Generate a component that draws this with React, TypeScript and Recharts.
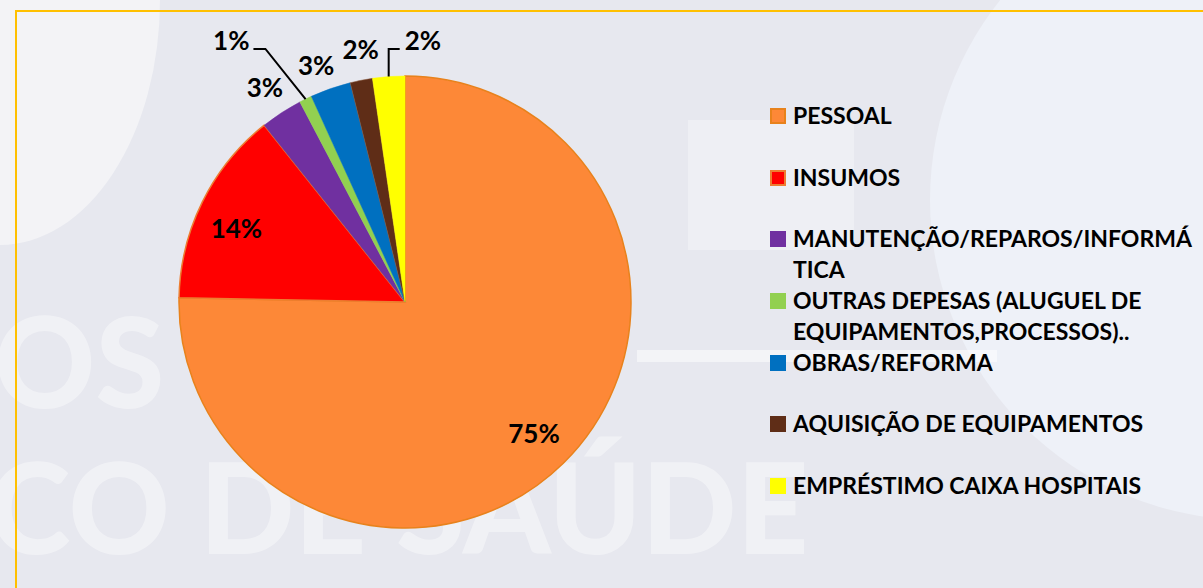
import React from 'react';
import { PieChart, Pie, Cell } from 'recharts';

const categories = [
  'PESSOAL',
  'INSUMOS',
  'MANUTENÇÃO/REPAROS/INFORMÁTICA',
  'OUTRAS DEPESAS (ALUGUEL DE EQUIPAMENTOS,PROCESSOS)..',
  'OBRAS/REFORMA',
  'AQUISIÇÃO DE EQUIPAMENTOS',
  'EMPRÉSTIMO CAIXA HOSPITAIS',
];

// share of the budget, in percent
const shares = [75.3, 14.0, 3.0, 0.9, 2.9, 1.6, 2.3];

// how the legend text wraps in the original
const legendLines = [
  ['PESSOAL'],
  ['INSUMOS'],
  ['MANUTENÇÃO/REPAROS/INFORMÁ', 'TICA'],
  ['OUTRAS DEPESAS (ALUGUEL DE', 'EQUIPAMENTOS,PROCESSOS)..'],
  ['OBRAS/REFORMA'],
  ['AQUISIÇÃO DE EQUIPAMENTOS'],
  ['EMPRÉSTIMO CAIXA HOSPITAIS'],
];

const fills = ['#fd8837', '#ff0000', '#7030a0', '#92d050', '#0070c0', '#5f2d17', '#ffff00'];
const strokes = ['#e8821c', '#ed7d31', '#7030a0', '#92d050', '#0070c0', '#8a5a3e', '#ffff00'];

const data = categories.map((name, i) => ({ name, value: shares[i] }));

const FONT = 'Lato, "Open Sans", sans-serif';
const RAD = Math.PI / 180;

function renderLabel(props: any) {
  const { cx, cy, midAngle, outerRadius, percent, index } = props;
  const text = `${Math.round(percent * 100)}%`;
  const style = { fontFamily: FONT, fontWeight: 700, fontSize: 26, fill: '#000' };
  const cos = Math.cos(-midAngle * RAD);
  const sin = Math.sin(-midAngle * RAD);

  // slices with a leader line (1% and the yellow 2%)
  if (index === 3 || index === 6) {
    const sx = cx + outerRadius * cos;
    const sy = cy + outerRadius * sin;
    const ey = cy - outerRadius * 1.12;
    if (index === 3) {
      const ex = sx - (sy - ey) * 0.8;
      return (
        <g>
          <polyline points={`${sx},${sy} ${ex},${ey} ${ex - 12},${ey}`} fill="none" stroke="#000" strokeWidth={2} />
          <text x={ex - 16} y={ey - 9} textAnchor="end" dominantBaseline="central" style={style}>{text}</text>
        </g>
      );
    }
    return (
      <g>
        <polyline points={`${sx},${sy} ${sx},${ey} ${sx + 11},${ey}`} fill="none" stroke="#000" strokeWidth={2} />
        <text x={sx + 16} y={ey - 9} textAnchor="start" dominantBaseline="central" style={style}>{text}</text>
      </g>
    );
  }

  // small nudges so neighbouring outside labels don't collide
  const tilt = index === 1 ? 2.5 : index === 4 ? 1.3 : index === 5 ? -1.2 : 0;
  const r = index <= 1 ? outerRadius * 0.815 : outerRadius * (index === 4 ? 1.12 : 1.135);
  const a = -(midAngle + tilt) * RAD;
  return (
    <text x={cx + r * Math.cos(a)} y={cy + r * Math.sin(a)} textAnchor="middle" dominantBaseline="central" style={style}>
      {text}
    </text>
  );
}

function LegendBox() {
  return (
    <div
      style={{
        position: 'absolute',
        left: 770,
        top: 100,
        width: 430,
        fontFamily: FONT,
        fontWeight: 700,
        fontSize: 23,
        color: '#000',
      }}
    >
      {legendLines.map((lines, i) => (
        <div key={categories[i]} style={{ position: 'relative', height: 61.7, paddingLeft: 23 }}>
          <div
            style={{
              position: 'absolute',
              left: 0,
              top: 8,
              width: 16,
              height: 16,
              boxSizing: 'border-box',
              background: fills[i],
              border: i <= 1 ? `2px solid ${strokes[i]}` : 'none',
            }}
          />
          {lines.map((l) => (
            <div key={l} style={{ lineHeight: '31px', whiteSpace: 'nowrap' }}>{l}</div>
          ))}
        </div>
      ))}
    </div>
  );
}

function Backdrop() {
  const abs: React.CSSProperties = { position: 'absolute', pointerEvents: 'none' };
  const mark: React.CSSProperties = {
    ...abs,
    fontFamily: FONT,
    fontWeight: 900,
    fontSize: 125,
    lineHeight: 1,
    color: 'rgba(255,255,255,0.4)',
    whiteSpace: 'nowrap',
  };
  return (
    <>
      <div style={{ ...abs, left: -160, top: -245, width: 320, height: 490, borderRadius: '50%', background: '#f3f3f6' }} />
      <div style={{ ...abs, left: 930, top: -120, width: 640, height: 640, borderRadius: '50%', background: '#eef1f8' }} />
      <div style={{ ...abs, left: 688, top: 120, width: 166, height: 130, background: 'rgba(255,255,255,0.3)' }} />
      <div style={{ ...abs, left: 637, top: 350, width: 360, height: 12, background: 'rgba(255,255,255,0.5)' }} />
      <div style={{ ...mark, left: -6, top: 298 }}>OS</div>
      <div style={{ ...mark, left: -12, top: 444 }}>CO DE SAÚDE</div>
      <div style={{ ...abs, left: 15, top: 10, width: 1300, height: 700, border: '2px solid #ffc000' }} />
    </>
  );
}

export default function App() {
  return (
    <div
      style={{
        position: 'absolute',
        left: 0,
        top: 0,
        width: 1203,
        height: 588,
        overflow: 'hidden',
        background: '#e7e8ef',
      }}
    >
      <Backdrop />
      <div style={{ position: 'absolute', left: 0, top: 0 }}>
        <PieChart width={1203} height={588} margin={{ top: 0, right: 0, bottom: 0, left: 0 }}>
          <Pie
            data={data}
            dataKey="value"
            nameKey="name"
            cx={405}
            cy={302}
            outerRadius={226}
            startAngle={90}
            endAngle={-270}
            label={renderLabel}
            labelLine={false}
            isAnimationActive={false}
          >
            {data.map((d, i) => (
              <Cell key={d.name} fill={fills[i]} stroke={strokes[i]} strokeWidth={i <= 1 ? 1.5 : 0.5} />
            ))}
          </Pie>
        </PieChart>
      </div>
      <LegendBox />
    </div>
  );
}
